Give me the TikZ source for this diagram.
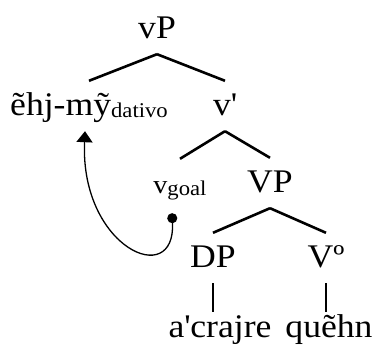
\documentclass[tikz,border=0pt]{standalone}
\usepackage{fontspec}
\setmainfont[FakeStretch=1.08]{Liberation Serif}
\usetikzlibrary{arrows.meta, positioning}

\newcommand{\lowtext}[1]{\raisebox{-2pt}{\fontsize{21}{21}\selectfont #1}}

\begin{document}
\begin{tikzpicture}[x=1pt, y=-1pt,
            cat/.style={font=\fontsize{33}{33}\selectfont, anchor=base, inner xsep=0pt, inner ysep=12pt, text height=22pt, text depth=4pt},
            word/.style={font=\fontsize{33}{33}\selectfont, anchor=base, inner xsep=0pt, inner ysep=3pt, text height=22pt, text depth=0pt},
            branch/.style={line width=2.6pt},
            bar/.style={line width=2.2pt},
            trace/.style={line width=1.3pt, {Circle[length=10pt]}-{Triangle[length=11pt, width=16pt]}}
        ]
        \useasboundingbox (0,0) rectangle (372,348);

        % Nodes (manual layout to match figure)
        \node[cat] (vP) at (157,38) {vP};
        \node[cat] (ehj) at (89,115) {ẽhj-mỹ\lowtext{dativo}};
        \node[cat] (vbar) at (225,115) {v\textquotesingle};
        \node[cat] (vgoal) at (180,193) {{\fontsize{26}{26}\selectfont v}\lowtext{goal}};
        \node[cat] (VP) at (270,192) {VP};
        \node[cat] (DP) at (213,267) {DP};
        \node[cat] (V0) at (326,267) {Vº};
        \node[word] (acrajre) at (220,337) {a\textquotesingle crajre};
        \node[word] (quehn) at (329,337) {quẽhn};

        % Edges

        \draw[branch] (vP.south) -- (ehj.north);
        \draw[branch] (vP.south) -- (vbar.north);

        \draw[branch] (vbar.south) -- (vgoal.north);
        \draw[branch] (vbar.south) -- (VP.north);

        \draw[branch] (VP.south) -- (DP.north);
        \draw[branch] (VP.south) -- (V0.north);

        \draw[bar] (DP.south) -- (DP |- acrajre.north);
        \draw[bar] (V0.south) -- (V0 |- quehn.north);

        % Movement
        \draw[trace] ([xshift=-8pt, yshift=-4pt]vgoal.south) .. controls (176,290) and (80,248) .. ([xshift=-4pt]ehj.south);

        \end{tikzpicture}
\end{document}
